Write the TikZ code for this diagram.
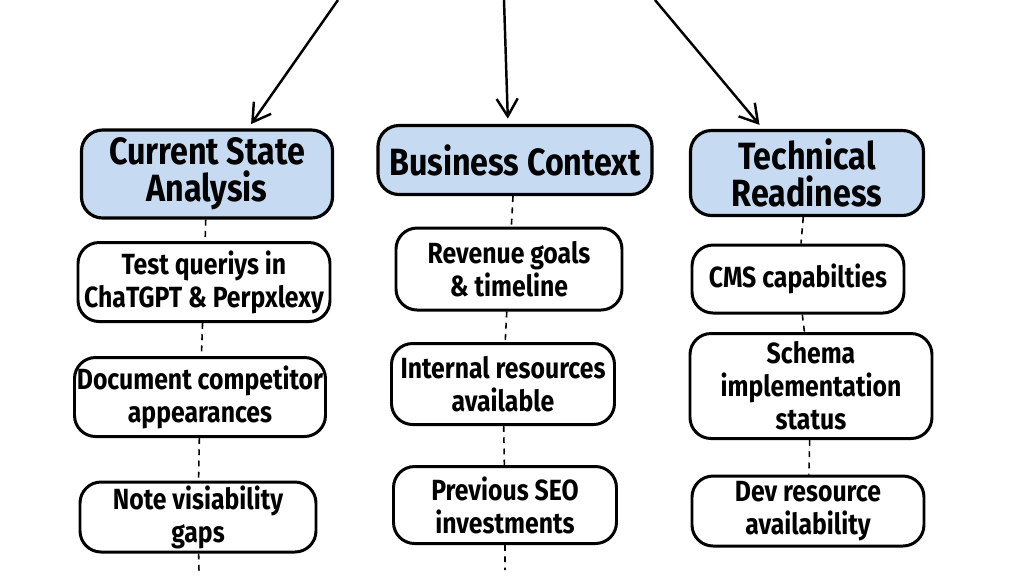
\documentclass[tikz,border=0pt]{standalone}
\usepackage{fontspec}
\setmainfont{Fira Sans}[FakeStretch=0.85]
\usepackage{xcolor}
\usetikzlibrary{arrows.meta}
\definecolor{headblue}{HTML}{C6DBF1}

\begin{document}
\begin{tikzpicture}[
    head/.style={draw, line width=0.9pt, rounded corners=6pt, fill=headblue, align=center, inner sep=0pt, font=\bfseries\fontsize{10.8}{10.6}\selectfont},
    item/.style={draw, line width=0.85pt, rounded corners=6pt, fill=white, align=center, inner sep=0pt, font=\bfseries\fontsize{8.3}{9.4}\selectfont},
    link/.style={line width=0.45pt, dash pattern=on 1.7pt off 1.5pt},
    arr/.style={line width=0.7pt, -{Straight Barb[length=5pt,width=6pt]}, shorten >=1.5pt}
]
    \useasboundingbox[fill=white] (0,-5.76) rectangle (10.24,0);

    % arrows come in from above the frame
    \coordinate (src1) at (3.38,0);
    \coordinate (src2) at (5.04,0);
    \coordinate (src3) at (6.55,0);

    % headers
    \node[head, minimum width=2.51cm, minimum height=0.88cm] (state) at (2.07,-1.74) {Current State\\Analysis};
    \node[head, minimum width=2.74cm, minimum height=0.69cm] (business) at (5.15,-1.60) {Business Context};
    \node[head, minimum width=2.33cm, minimum height=0.85cm] (tech) at (8.07,-1.73) {Technical\\Readiness};

    \draw[arr] (src1) -- (state.48);
    \draw[arr] (src2) -- (business.101);
    \draw[arr] (src3) -- (tech.135);

    % current state column
    \node[item, minimum width=2.52cm, minimum height=0.79cm] (queries) at (2.04,-2.82) {Test queriys in\\ChaTGPT \& Perpxlexy};
    \node[item, minimum width=2.51cm, minimum height=0.79cm] (rivals) at (2.00,-3.97) {Document competitor\\appearances};
    \node[item, minimum width=2.36cm, minimum height=0.70cm] (gaps) at (1.98,-5.17) {Note visiability\\gaps};
    \coordinate (end1) at (1.99,-5.72);

    % business column
    \node[item, minimum width=2.26cm, minimum height=0.82cm] (goals) at (5.09,-2.69) {Revenue goals\\\& timeline};
    \node[item, minimum width=2.23cm, minimum height=0.81cm] (staff) at (5.03,-3.84) {Internal resources\\available};
    \node[item, minimum width=2.23cm, minimum height=0.77cm] (seo) at (5.05,-5.05) {Previous SEO\\investments};
    \coordinate (end2) at (5.05,-5.70);

    % technical column
    \node[item, minimum width=2.12cm, minimum height=0.68cm] (cms) at (7.98,-2.79) {CMS capabilties};
    \node[item, minimum width=2.42cm, minimum height=1.05cm] (schema) at (8.11,-3.86) {Schema\\implementation\\status};
    \node[item, minimum width=2.32cm, minimum height=0.70cm] (dev) at (8.08,-5.11) {Dev resource\\availability};

    \draw[link] (state) -- (queries) -- (rivals) -- (gaps) -- (end1);
    \draw[link] (business) -- (goals) -- (staff) -- (seo) -- (end2);
    \draw[link] (tech) -- (cms) -- (schema) -- (dev);
\end{tikzpicture}
\end{document}
